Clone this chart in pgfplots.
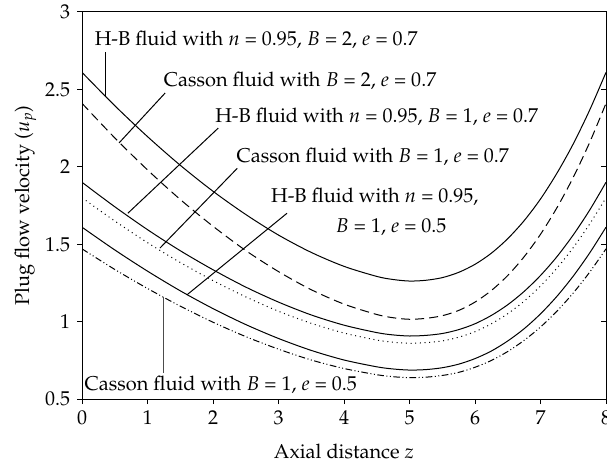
\documentclass[border=0pt]{standalone}
\usepackage[T1]{fontenc}
\usepackage{mathpazo}
\usepackage{pgfplots}
\pgfplotsset{compat=1.18}

\pgfplotstableread{
z     hbA    caA    hbB    caB    hbC    caC
0     2.610  2.410  1.900  1.800  1.610  1.470
0.5   2.395  2.187  1.742  1.650  1.463  1.337
1     2.195  1.980  1.594  1.510  1.326  1.214
1.5   2.010  1.789  1.458  1.382  1.199  1.100
2     1.842  1.616  1.335  1.265  1.084  0.996
2.5   1.692  1.459  1.223  1.160  0.981  0.903
3     1.559  1.323  1.126  1.067  0.891  0.822
3.5   1.447  1.206  1.043  0.989  0.814  0.752
4     1.357  1.113  0.977  0.926  0.752  0.697
4.5   1.292  1.046  0.929  0.881  0.708  0.657
4.75  1.272  1.025  0.914  0.867  0.694  0.644
5     1.262  1.015  0.907  0.860  0.687  0.638
5.25  1.267  1.021  0.911  0.864  0.690  0.641
5.5   1.284  1.038  0.923  0.875  0.702  0.652
5.75  1.318  1.072  0.948  0.899  0.725  0.672
6     1.370  1.126  0.986  0.935  0.761  0.705
6.25  1.442  1.201  1.040  0.986  0.810  0.749
6.5   1.536  1.298  1.109  1.051  0.875  0.807
6.75  1.652  1.419  1.195  1.132  0.954  0.879
7     1.792  1.564  1.298  1.230  1.050  0.965
7.25  1.958  1.735  1.419  1.345  1.163  1.067
7.5   2.148  1.932  1.560  1.478  1.294  1.185
7.75  2.366  2.157  1.720  1.630  1.443  1.319
8     2.610  2.410  1.900  1.800  1.610  1.470
}\velo

\begin{document}
\fontsize{12}{14.5}\selectfont
\begin{tikzpicture}
    \pgfplotsset{
        base/.style={
            width=314.4pt, height=232.2pt,
            scale only axis,
            xmin=0, xmax=8,
            ymin=0.5, ymax=3,
            ytick={0.5,1,...,3},
            xtick={0,1,...,8},
            major tick length=3pt,
            axis line style={line width=0.6pt},
            tick style={line width=0.6pt, black},
        }
    }
    \begin{axis}[
        base,
        tick align=outside,
        xtick pos=bottom,
        ytick pos=left,
        xlabel={Axial distance $z$},
        ylabel={Plug flow velocity ($u_p$)},
        xlabel style={yshift=-3pt},
        ylabel style={yshift=-3pt},
        yticklabel style={/pgf/number format/fixed},
        every axis plot/.append style={line width=0.6pt, black, smooth},
        ]
    % H-B fluid, n = 0.95, B = 2, e = 0.7
    \addplot[solid] table[x=z, y=hbA] {\velo};
    % Casson fluid, B = 2, e = 0.7
    \addplot[dash pattern=on 5.4pt off 3pt] table[x=z, y=caA] {\velo};
    % H-B fluid, n = 0.95, B = 1, e = 0.7
    \addplot[solid] table[x=z, y=hbB] {\velo};
    % Casson fluid, B = 1, e = 0.7
    \addplot[dash pattern=on 0.6pt off 2.2pt] table[x=z, y=caB] {\velo};
    % H-B fluid, n = 0.95, B = 1, e = 0.5
    \addplot[solid] table[x=z, y=hbC] {\velo};
    % Casson fluid, B = 1, e = 0.5
    \addplot[dash pattern=on 4pt off 1.5pt on 0.6pt off 1.5pt on 0.6pt off 1.5pt] table[x=z, y=caC] {\velo};

    % labels and pointers
    \begin{scope}[line width=0.6pt]
    \node at (axis cs:2.66,2.82) {H-B fluid with $n$ = 0.95, $B$ = 2, $e$ = 0.7};
    \draw (axis cs:0.366,2.74) -- (axis cs:0.366,2.46);
    \node at (axis cs:3.33,2.554) {Casson fluid with $B$ = 2, $e$ = 0.7};
    \draw (axis cs:1.27,2.477) -- (axis cs:0.565,2.154);
    \node at (axis cs:4.5,2.32) {H-B fluid with $n$ = 0.95, $B$ = 1, $e$ = 0.7};
    \draw (axis cs:2.08,2.25) -- (axis cs:0.70,1.70);
    \node at (axis cs:4.44,2.063) {Casson fluid with $B$ = 1, $e$ = 0.7};
    \draw (axis cs:2.37,1.99) -- (axis cs:1.19,1.475);
    \node at (axis cs:4.47,1.805) {H-B fluid with $n$ = 0.95,};
    \node at (axis cs:4.72,1.611) {$B$ = 1, $e$ = 0.5};
    \draw (axis cs:3.13,1.70) -- (axis cs:1.60,1.172);
    \node at (axis cs:2.12,0.59) {Casson fluid with $B$ = 1, $e$ = 0.5};
    \draw[black!70] (axis cs:1.25,0.668) -- (axis cs:1.25,1.159);
    \end{scope}
    \end{axis}
    % inward ticks on the right-hand side
    \begin{axis}[
        base,
        tick align=inside,
        axis x line=none,
        axis y line*=right,
        ytick pos=right,
        yticklabels={},
        ]
    \end{axis}
    \pgfresetboundingbox
    \useasboundingbox ([shift={(-49.2pt,-41.4pt)}]current axis.south west)
        rectangle ([shift={(0.6pt,7.2pt)}]current axis.north east);
\end{tikzpicture}
\end{document}
